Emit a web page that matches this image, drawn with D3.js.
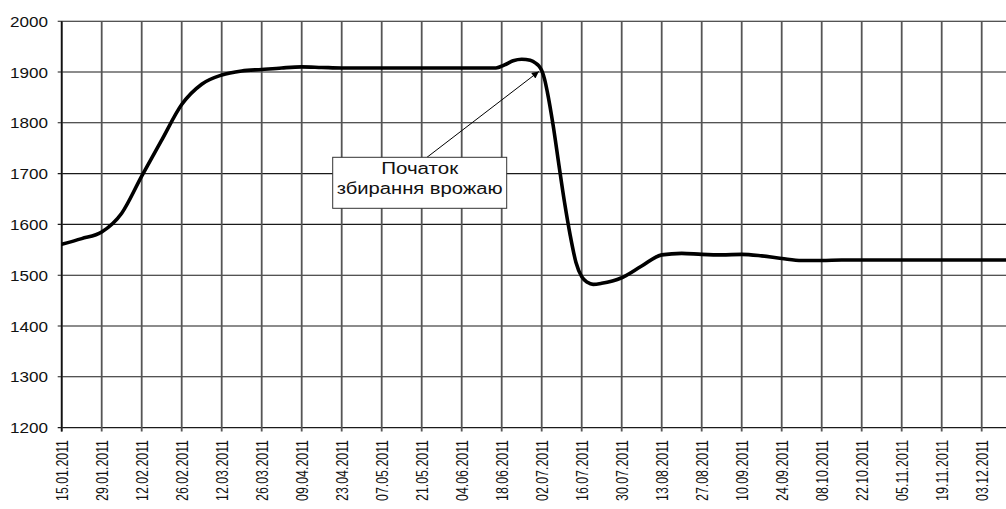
<!DOCTYPE html>
<html>
<head>
<meta charset="utf-8">
<script src="https://cdn.jsdelivr.net/npm/d3@7"></script>
<style>
  html, body { margin: 0; padding: 0; background: #fff; }
  svg { display: block; font-family: "Liberation Sans", Arial, sans-serif; }
</style>
</head>
<body>
<svg id="chart" width="1006" height="509"></svg>
<script>
// Date labels under the x axis (every 14 days)
const tickLabels = [
  "15.01.2011", "29.01.2011", "12.02.2011", "26.02.2011", "12.03.2011", "26.03.2011",
  "09.04.2011", "23.04.2011", "07.05.2011", "21.05.2011", "04.06.2011", "18.06.2011",
  "02.07.2011", "16.07.2011", "30.07.2011", "13.08.2011", "27.08.2011", "10.09.2011",
  "24.09.2011", "08.10.2011", "22.10.2011", "05.11.2011", "19.11.2011", "03.12.2011"
];

// Value axis ticks
const yTicks = [1200, 1300, 1400, 1500, 1600, 1700, 1800, 1900, 2000];

// Observation dates and values of the series
const dates = [
  "15.01.2011", "22.01.2011", "29.01.2011", "05.02.2011", "12.02.2011", "19.02.2011",
  "26.02.2011", "05.03.2011", "12.03.2011", "19.03.2011", "26.03.2011", "02.04.2011",
  "09.04.2011", "16.04.2011", "23.04.2011", "30.04.2011", "07.05.2011", "14.05.2011",
  "21.05.2011", "28.05.2011", "04.06.2011", "11.06.2011", "16.06.2011", "19.06.2011",
  "22.06.2011", "25.06.2011", "28.06.2011", "30.06.2011", "01.07.2011", "02.07.2011",
  "03.07.2011", "04.07.2011", "06.07.2011", "08.07.2011", "10.07.2011", "12.07.2011",
  "14.07.2011", "16.07.2011", "18.07.2011", "20.07.2011", "23.07.2011", "30.07.2011",
  "06.08.2011", "13.08.2011", "20.08.2011", "27.08.2011", "03.09.2011", "10.09.2011",
  "17.09.2011", "24.09.2011", "01.10.2011", "08.10.2011", "15.10.2011", "22.10.2011",
  "29.10.2011", "05.11.2011", "12.11.2011", "19.11.2011", "26.11.2011", "03.12.2011",
  "10.12.2011", "17.12.2011"
];
const values = [
  1561, 1572, 1585, 1622, 1695, 1766,
  1836, 1876, 1894, 1902, 1905, 1908,
  1910, 1909, 1908, 1908, 1908, 1908,
  1908, 1908, 1908, 1908, 1908, 1914,
  1922, 1925, 1923, 1917, 1912, 1903,
  1886, 1860, 1795, 1718, 1643, 1578,
  1525, 1497, 1486, 1482, 1484, 1495,
  1518, 1540, 1543, 1541, 1540, 1541,
  1538, 1533, 1529, 1529, 1530, 1530,
  1530, 1530, 1530, 1530, 1530, 1530,
  1530, 1530
];

// Callout
const calloutLines = ["Початок", "збирання врожаю"];
const calloutDate = "01.07.2011";
const calloutValue = 1900;

const parse = d3.utcParse("%d.%m.%Y");
const svg = d3.select("#chart");
const W = 1006;

const plot = { left: 61.7, top: 21.2, bottom: 427.6, right: W };

const x = d3.scaleUtc()
  .domain([parse(tickLabels[0]), parse(tickLabels[tickLabels.length - 1])])
  .range([61.7, 981.7]);
const y = d3.scaleLinear().domain([1200, 2000]).range([plot.bottom, plot.top]);

// horizontal grid
svg.append("g").selectAll("line").data(yTicks).join("line")
  .attr("x1", plot.left - 4).attr("x2", plot.right)
  .attr("y1", d => y(d)).attr("y2", d => y(d))
  .attr("stroke", "#1a1a1a").attr("stroke-width", 1.1);

// vertical grid with ticks below the axis
const tickDates = tickLabels.map(parse);
svg.append("g").selectAll("line").data(tickDates).join("line")
  .attr("x1", d => x(d)).attr("x2", d => x(d))
  .attr("y1", plot.top).attr("y2", plot.bottom + 4)
  .attr("stroke", "#555").attr("stroke-width", 1.8);

// y axis line
svg.append("line")
  .attr("x1", plot.left).attr("x2", plot.left)
  .attr("y1", plot.top).attr("y2", plot.bottom + 4)
  .attr("stroke", "#111").attr("stroke-width", 1.6);

// y tick labels
svg.append("g").selectAll("text").data(yTicks).join("text")
  .attr("x", 48).attr("y", d => y(d) + 5.5)
  .attr("text-anchor", "end")
  .attr("font-size", 15)
  .attr("textLength", 38).attr("lengthAdjust", "spacingAndGlyphs")
  .attr("fill", "#111")
  .text(d => d);

// x tick labels, rotated
svg.append("g").selectAll("text").data(tickLabels).join("text")
  .attr("transform", d => `translate(${x(parse(d)) + 6},440) rotate(-90)`)
  .attr("text-anchor", "end")
  .attr("font-size", 17)
  .attr("textLength", 61).attr("lengthAdjust", "spacingAndGlyphs")
  .attr("fill", "#111")
  .text(d => d);

// series line
svg.append("clipPath").attr("id", "clip")
  .append("rect").attr("x", plot.left).attr("y", 0)
  .attr("width", plot.right - plot.left).attr("height", 509);

const pts = dates.map((d, i) => [parse(d), values[i]]);
const line = d3.line()
  .x(d => x(d[0])).y(d => y(d[1]))
  .curve(d3.curveMonotoneX);
svg.append("path")
  .datum(pts)
  .attr("clip-path", "url(#clip)")
  .attr("d", line)
  .attr("fill", "none")
  .attr("stroke", "#000")
  .attr("stroke-width", 3.6)
  .attr("stroke-linejoin", "round")
  .attr("stroke-linecap", "round");

// callout box with arrow
svg.append("defs").append("marker")
  .attr("id", "arrow").attr("viewBox", "0 0 10 10")
  .attr("refX", 10).attr("refY", 5)
  .attr("markerWidth", 9).attr("markerHeight", 7)
  .attr("markerUnits", "userSpaceOnUse")
  .attr("orient", "auto")
  .append("path").attr("d", "M0,0 L10,5 L0,10 Z").attr("fill", "#000");

const tipX = x(parse(calloutDate));
const tipY = y(calloutValue) - 0.5;
const box = { x: 332.7, y: 157.3, w: 174, h: 51 };
svg.append("line")
  .attr("x1", 427).attr("y1", box.y)
  .attr("x2", tipX).attr("y2", tipY)
  .attr("stroke", "#000").attr("stroke-width", 1)
  .attr("marker-end", "url(#arrow)");

svg.append("rect")
  .attr("x", box.x).attr("y", box.y).attr("width", box.w).attr("height", box.h)
  .attr("fill", "#fff").attr("stroke", "#333").attr("stroke-width", 1);

const lineLen = [77, 166];
svg.append("g").selectAll("text").data(calloutLines).join("text")
  .attr("x", box.x + box.w / 2)
  .attr("y", (d, i) => 174 + i * 20)
  .attr("text-anchor", "middle")
  .attr("font-size", 16)
  .attr("textLength", (d, i) => lineLen[i]).attr("lengthAdjust", "spacingAndGlyphs")
  .attr("fill", "#111")
  .text(d => d);
</script>
</body>
</html>
